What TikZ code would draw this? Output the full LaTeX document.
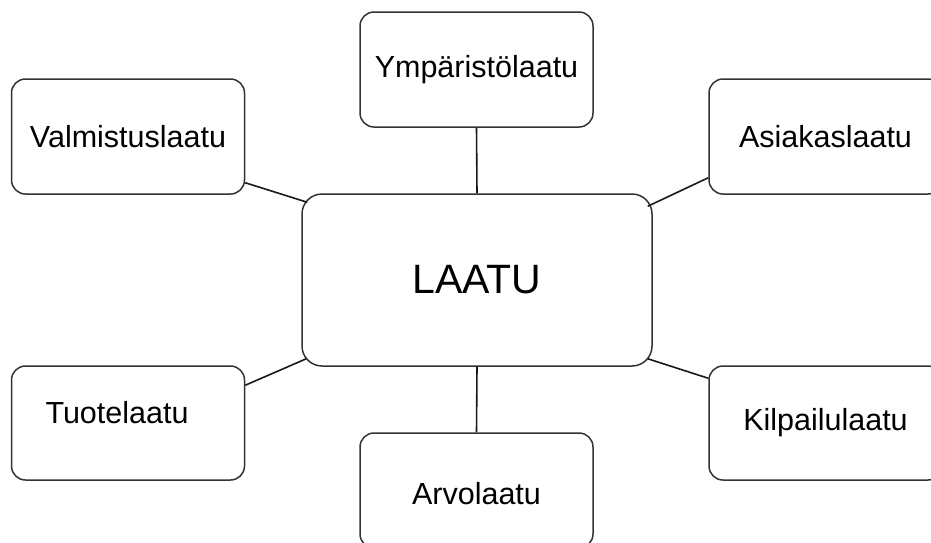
\documentclass[tikz,border=0pt]{standalone}
\usepackage{fontspec}
\setmainfont{Liberation Sans}
\usetikzlibrary{calc}

\tikzset{
  box/.style={draw=black!80, line width=1.5pt, rounded corners=14pt, fill=white,
    minimum width=233pt, minimum height=115pt, inner sep=0pt,
    font=\fontsize{30.5}{36}\selectfont},
  hub/.style={box, rounded corners=20pt, minimum width=350pt, minimum height=172pt,
    font=\fontsize{41}{48}\selectfont},
  lbl/.style={inner sep=0pt, font=\fontsize{30.5}{36}\selectfont},
  link/.style={draw=black!90, line width=1.6pt},
}

\begin{document}
\begin{tikzpicture}[x=1pt, y=-1pt]
  \useasboundingbox (0,0) rectangle (931,542);
  \clip (0,0) rectangle (931,542);

  % central concept
  \node[hub] (laatu) at (477,280) {LAATU};

  % surrounding aspects
  \node[box] (ymp)  at (476.5,69.5)  {Ympäristölaatu};
  \node[box] (valm) at (128,136.5)   {Valmistuslaatu};
  \node[box] (asi)  at (825.5,136.5) {Asiakaslaatu};
  \node[box, minimum height=114pt] (tuo) at (128,423) {};
  \node[lbl] (tuotext) at (117,413) {Tuotelaatu};
  \node[box, minimum height=114pt] (kil) at (825.5,423) {Kilpailulaatu};
  \node[box, text height=28pt] (arv) at (476.5,490.5) {Arvolaatu};

  % connectors
  \draw[link] (ymp.south) -- (laatu.north);
  \draw[link] (laatu.south) -- (arv.north);
  \draw[link] ($(valm.south east)+(0,-12)$) -- ($(laatu.north west)+(6,9)$);
  \draw[link] ($(asi.south west)+(0,-17)$) -- ($(laatu.north east)+(-5,13)$);
  \draw[link] ($(tuo.north east)+(0,20)$) -- ($(laatu.south west)+(5,-8)$);
  \draw[link] ($(kil.north west)+(0,13)$) -- ($(laatu.south east)+(-5,-8)$);
\end{tikzpicture}
\end{document}
